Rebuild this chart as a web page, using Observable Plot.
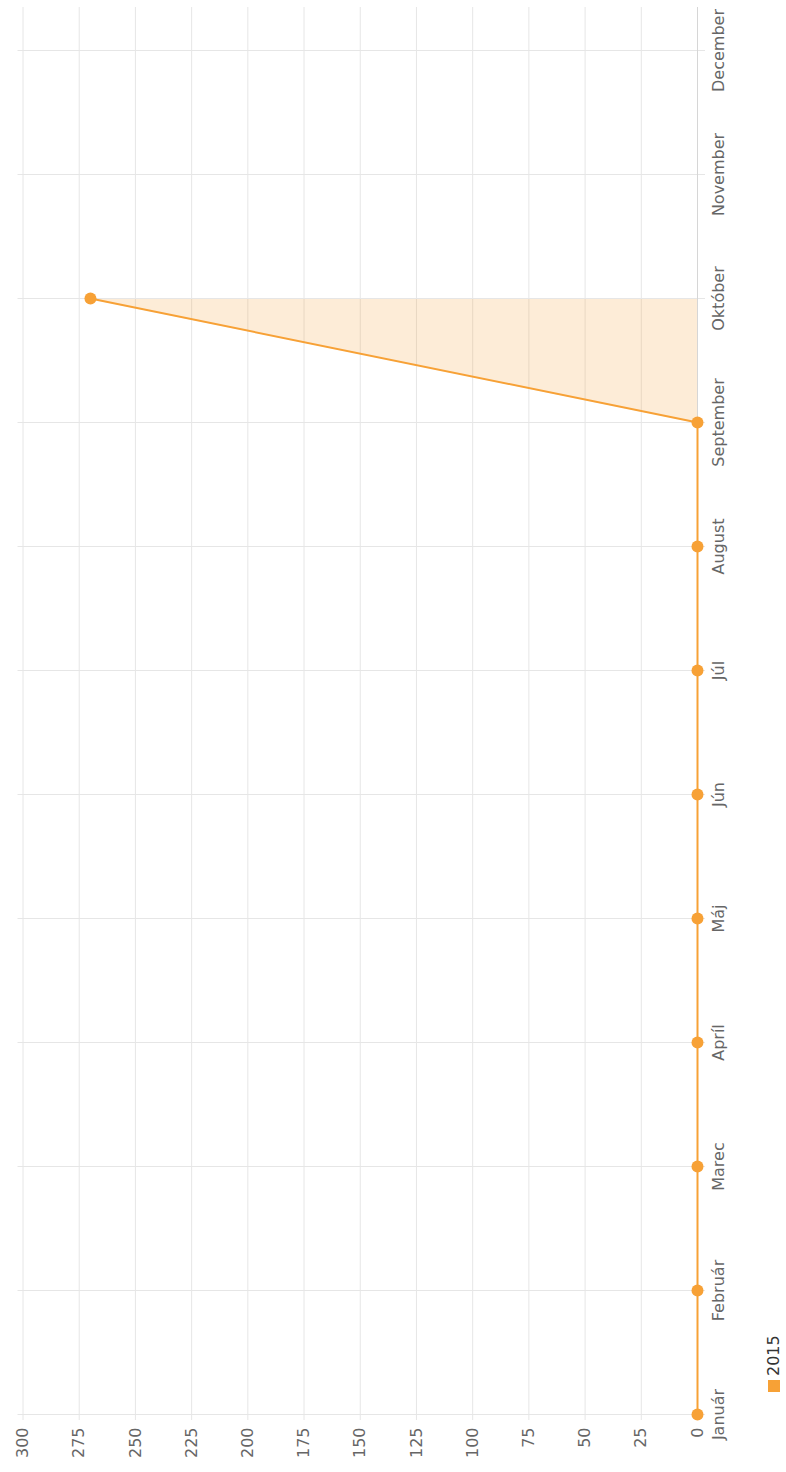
<!DOCTYPE html>
<html><head><meta charset="utf-8">
<script src="https://cdn.jsdelivr.net/npm/d3@7"></script>
<script src="https://cdn.jsdelivr.net/npm/@observablehq/plot@0.6"></script>
<style>
html,body{margin:0;padding:0;background:#fff;overflow:hidden;width:786px;height:1472px;}
#wrap{position:absolute;left:0;top:0;width:1472px;height:786px;transform-origin:0 0;transform:translate(0,1472px) rotate(-90deg);font-family:"DejaVu Sans",sans-serif;background:#fff;}
#legend{position:absolute;left:80px;top:764px;display:flex;align-items:center;gap:4px;font-size:16px;font-weight:normal;color:#333;}
#legend .sw{display:inline-block;width:12px;height:12px;background:#F7A136;}
</style></head><body>
<div id="wrap"><div id="chart"></div><div id="legend"><span class="sw"></span><span id="lgtext"></span></div></div>
<script>
const months = ["Január","Február","Marec","Apríl","Máj","Jún","Júl","August","September","Október","November","December"];
const values2015 = [0,0,0,0,0,0,0,0,0,270,null,null];
const yTicks = [0,25,50,75,100,125,150,175,200,225,250,275,300];
const seriesName = "2015";
const seriesColor = "#F7A136";

const data = months.map((m,i)=>({month:m, value:values2015[i]}));
const defined = data.filter(d=>d.value!=null);
document.getElementById("lgtext").textContent = seriesName;

const chart = Plot.plot({
  width:1472, height:740,
  marginLeft:52, marginRight:7, marginTop:22.5, marginBottom:43,
  style:{fontFamily:"DejaVu Sans, sans-serif", fontSize:"16px", background:"transparent", color:"#666"},
  x:{type:"point", domain:months, padding:0.18, align:0.1, label:null},
  y:{domain:[0,300], label:null},
  marks:[
    Plot.gridY(yTicks,{stroke:"#e6e6e6", strokeOpacity:1}),
    Plot.gridX(months,{stroke:"#e6e6e6", strokeOpacity:1, insetTop:-5, insetBottom:-8}),
    Plot.ruleY([0],{stroke:"#d6d6d6"}),
    Plot.axisY(yTicks,{tickSize:0, tickPadding:8, fill:"#666", fontSize:16, label:null}),
    Plot.axisX({tickSize:0, tickPadding:15, fill:"#666", fontSize:16, label:null}),
    Plot.areaY(defined,{x:"month", y:"value", fill:seriesColor, fillOpacity:0.2, curve:"linear"}),
    Plot.lineY(data,{x:"month", y:"value", stroke:seriesColor, strokeWidth:2, curve:"linear"}),
    Plot.dot(defined,{x:"month", y:"value", r:6, fill:seriesColor, stroke:"none"})
  ]
});
document.getElementById("chart").appendChild(chart);
</script>
</body></html>
